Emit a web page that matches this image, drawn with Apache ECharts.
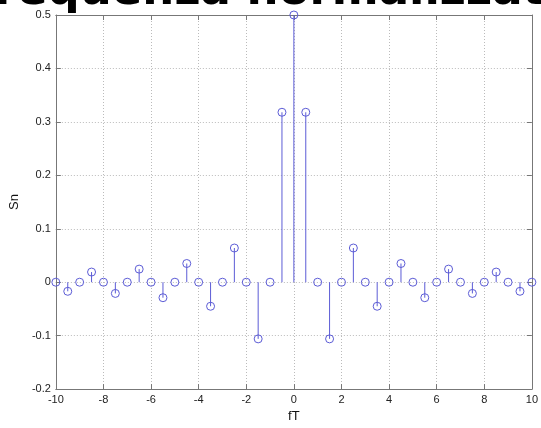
<!DOCTYPE html>
<html>
<head>
<meta charset="utf-8">
<script src="https://cdn.jsdelivr.net/npm/echarts@6/dist/echarts.min.js"></script>
<style>
html, body { margin: 0; padding: 0; background: #fff; }
#chart { width: 541px; height: 428px; }
</style>
</head>
<body>
<div id="chart"></div>
<script>
// frequenze normalizzate fT (passo 0.5)
var fT = [-10, -9.5, -9, -8.5, -8, -7.5, -7, -6.5, -6, -5.5, -5, -4.5, -4, -3.5, -3, -2.5, -2, -1.5, -1, -0.5,
  0, 0.5, 1, 1.5, 2, 2.5, 3, 3.5, 4, 4.5, 5, 5.5, 6, 6.5, 7, 7.5, 8, 8.5, 9, 9.5, 10];
// valori Sn
var Sn = [0, -0.017, 0, 0.019, 0, -0.021, 0, 0.0245, 0, -0.029, 0, 0.035, 0, -0.045, 0, 0.064, 0, -0.106, 0, 0.318,
  0.5, 0.318, 0, -0.106, 0, 0.064, 0, -0.045, 0, 0.035, 0, -0.029, 0, 0.0245, 0, -0.021, 0, 0.019, 0, -0.017, 0];
var xTicks = [-10, -8, -6, -4, -2, 0, 2, 4, 6, 8, 10];
var yTicks = [-0.2, -0.1, 0, 0.1, 0.2, 0.3, 0.4, 0.5];
var titolo = 'Frequenza normalizzata';

var blu = '#5c5cd6';
var pts = [];
for (var i = 0; i < fT.length; i++) pts.push([fT[i], Sn[i]]);

var myChart = echarts.init(document.getElementById('chart'));
var lab = { color: '#222', fontSize: 11, fontFamily: 'Liberation Sans, Arial, sans-serif' };
var boxLine = { show: true, onZero: false, lineStyle: { color: '#777', width: 1 } };
var tick = { inside: true, length: 5, lineStyle: { color: '#777' } };
var split = { show: true, lineStyle: { color: '#bbb', type: [1, 2], width: 1 } };

var option = {
  animation: false,
  backgroundColor: '#fff',
  graphic: [{
    type: 'text',
    left: -33,
    top: -30,
    z: 10,
    style: {
      text: titolo,
      font: 'bold 45px "Comic Sans MS", "DejaVu Sans", sans-serif',
      fill: '#000'
    }
  }],
  grid: { left: 51, right: 6, top: 15, bottom: 31 },
  xAxis: [{
    type: 'value', min: xTicks[0], max: xTicks[xTicks.length - 1], interval: 2,
    name: 'fT', nameLocation: 'middle', nameGap: 17,
    nameTextStyle: { color: '#111', fontSize: 13, fontFamily: 'Liberation Sans, Arial, sans-serif' },
    axisLine: boxLine, axisTick: tick,
    axisLabel: Object.assign({ margin: 5 }, lab), splitLine: split
  }, {
    type: 'value', position: 'top', min: xTicks[0], max: xTicks[xTicks.length - 1], interval: 2,
    axisLine: boxLine, axisTick: tick,
    axisLabel: { show: false }, splitLine: { show: false }
  }],
  yAxis: [{
    type: 'value', min: yTicks[0], max: yTicks[yTicks.length - 1], interval: 0.1,
    name: 'Sn', nameLocation: 'middle', nameGap: 27,
    nameTextStyle: { color: '#111', fontSize: 13, fontFamily: 'Liberation Sans, Arial, sans-serif' },
    axisLine: boxLine, axisTick: tick,
    axisLabel: Object.assign({ margin: 5, formatter: function (v) { return String(Math.round(v * 10) / 10); } }, lab),
    splitLine: split
  }, {
    type: 'value', position: 'right', min: yTicks[0], max: yTicks[yTicks.length - 1], interval: 0.1,
    axisLine: boxLine, axisTick: tick,
    axisLabel: { show: false }, splitLine: { show: false }
  }],
  series: [{
    type: 'custom',
    clip: false,
    data: pts,
    renderItem: function (params, api) {
      var a = api.coord([api.value(0), 0]);
      var b = api.coord([api.value(0), api.value(1)]);
      return { type: 'line', shape: { x1: a[0], y1: a[1], x2: b[0], y2: b[1] },
        style: { stroke: blu, lineWidth: 1 } };
    },
    z: 3
  }, {
    type: 'scatter',
    data: pts,
    symbol: 'circle',
    symbolSize: 8,
    clip: false,
    itemStyle: { color: 'rgba(255,255,255,0)', borderColor: blu, borderWidth: 1, opacity: 1 },
    z: 4
  }]
};
myChart.setOption(option);
</script>
</body>
</html>
